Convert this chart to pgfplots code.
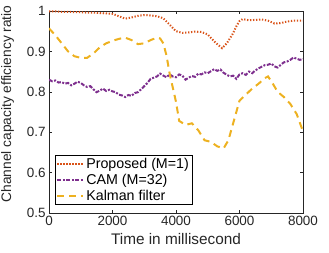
\documentclass[border=0pt]{standalone}
\usepackage{fontspec}
\setmainfont{Liberation Sans}
\usepackage{pgfplots}
\pgfplotsset{compat=1.18}
\definecolor{mOrange}{rgb}{0.850,0.325,0.098}
\definecolor{mPurple}{rgb}{0.494,0.184,0.556}
\definecolor{mYellow}{rgb}{0.929,0.694,0.125}
\definecolor{axgray}{rgb}{0.15,0.15,0.15}
\begin{document}
\begin{tikzpicture}[font=\fontsize{13.3}{15}\selectfont]
\begin{axis}[
  scale only axis,
  width=254bp, height=202bp,
  xmin=0, xmax=8000, ymin=0.5, ymax=1,
  xtick={0,2000,4000,6000,8000},
  ytick={0.5,0.6,0.7,0.8,0.9,1},
  yticklabels={0.5,0.6,0.7,0.8,0.9,1},
  scaled x ticks=false,
  /pgf/number format/assume math mode=true,
  xticklabel style={/pgf/number format/1000 sep={}},
  tick align=inside,
  major tick length=3bp,
  axis line style={axgray, line width=0.5pt},
  every tick/.style={axgray, line width=0.5pt},
  tick label style={font=\fontsize{13.5}{15}\selectfont, text=axgray},
  xlabel={Time in millisecond},
  ylabel={Channel capacity efficiency ratio},
  xlabel style={font=\fontsize{15.4}{17}\selectfont, text=axgray, at={(axis description cs:0.5,0)}, anchor=north, inner sep=0pt, yshift=-20bp},
  ylabel style={font=\fontsize{13.8}{16}\selectfont, text=axgray, at={(axis description cs:0,0.54)}, anchor=north, inner sep=0pt, yshift=48bp},
  legend style={at={(axis description cs:0.024,0.04)}, anchor=south west,
    draw=black, line width=0.5pt, font=\fontsize{14.3}{16}\selectfont,
    nodes={font=\fontsize{14.3}{16}\selectfont, text=black},
    inner xsep=1pt, inner ysep=1pt, row sep=0pt},
  legend cell align=left,
  legend image code/.code={\draw[#1] (0bp,0bp) -- (26bp,0bp);},
  legend image post style={line width=2pt},
]
\addplot[mOrange, line width=2pt, dash pattern=on 1.3pt off 1.7pt] coordinates {
(0,0.999)(200,0.999)(400,0.998)(600,0.998)(800,0.997)(1000,0.997)(1200,0.996)
(1400,0.996)(1600,0.995)(1800,0.994)(2000,0.993)(2200,0.987)(2400,0.981)
(2600,0.984)(2800,0.988)(3000,0.990)(3200,0.989)(3400,0.987)(3600,0.982)
(3800,0.966)(4000,0.950)(4200,0.946)(4400,0.947)(4600,0.949)(4800,0.948)
(5000,0.942)(5200,0.925)(5300,0.918)(5450,0.908)(5600,0.920)(5800,0.945)
(5900,0.962)(6000,0.975)(6100,0.980)(6300,0.977)(6500,0.978)(6700,0.979)
(6900,0.976)(7100,0.969)(7300,0.970)(7500,0.974)(7700,0.976)(8000,0.976)
};
\addlegendentry{Proposed (M=1)}
\addplot[mPurple, line width=2pt, dash pattern=on 4pt off 1.5pt on 2pt off 1.5pt] coordinates {
(0,0.830)(100,0.826)(200,0.828)(300,0.823)(400,0.824)(500,0.820)(600,0.822)
(700,0.816)(800,0.820)(900,0.825)(1000,0.822)(1100,0.816)(1200,0.812)(1300,0.814)
(1400,0.806)(1500,0.799)(1600,0.803)(1700,0.808)(1800,0.802)(1900,0.805)(2000,0.801)
(2100,0.799)(2200,0.793)(2300,0.791)(2400,0.787)(2500,0.792)(2600,0.790)(2700,0.797)
(2800,0.799)(2900,0.806)(3000,0.814)(3100,0.822)(3200,0.832)(3300,0.835)(3400,0.838)
(3500,0.845)(3600,0.840)(3700,0.836)(3800,0.843)(3900,0.838)(4000,0.836)(4100,0.843)
(4200,0.840)(4300,0.830)(4400,0.835)(4500,0.839)(4600,0.837)(4700,0.845)(4800,0.843)
(4900,0.848)(5000,0.846)(5100,0.851)(5200,0.856)(5300,0.852)(5400,0.855)(5500,0.847)
(5600,0.842)(5700,0.838)(5800,0.840)(5900,0.832)(6000,0.843)(6100,0.846)(6200,0.842)
(6300,0.850)(6400,0.846)(6500,0.853)(6600,0.858)(6700,0.862)(6800,0.866)(6900,0.867)
(7000,0.870)(7100,0.863)(7200,0.860)(7300,0.867)(7400,0.873)(7500,0.875)(7600,0.879)
(7700,0.885)(7800,0.882)(7900,0.879)(8000,0.881)
};
\addlegendentry{CAM (M=32)}
\addplot[mYellow, line width=2pt, dash pattern=on 7pt off 5pt] coordinates {
(0,0.957)(200,0.940)(400,0.920)(600,0.900)(800,0.888)(1000,0.884)(1200,0.884)
(1400,0.895)(1600,0.910)(1800,0.920)(2000,0.926)(2200,0.931)(2400,0.934)(2600,0.928)
(2800,0.918)(3000,0.920)(3200,0.928)(3400,0.934)(3500,0.932)(3600,0.920)(3700,0.890)
(3800,0.845)(3900,0.810)(4000,0.775)(4100,0.728)(4300,0.718)(4500,0.722)(4700,0.705)
(4900,0.680)(5100,0.676)(5300,0.665)(5500,0.660)(5650,0.680)(5800,0.722)(5900,0.750)
(6000,0.778)(6200,0.793)(6400,0.808)(6600,0.820)(6800,0.834)(6900,0.838)(7050,0.820)
(7200,0.800)(7400,0.787)(7600,0.770)(7800,0.745)(8000,0.702)
};
\addlegendentry{Kalman filter}
\end{axis}
\path ([shift={(-49bp,-40bp)}]current axis.south west) rectangle ([shift={(26bp,11bp)}]current axis.north east);
\end{tikzpicture}
\end{document}
